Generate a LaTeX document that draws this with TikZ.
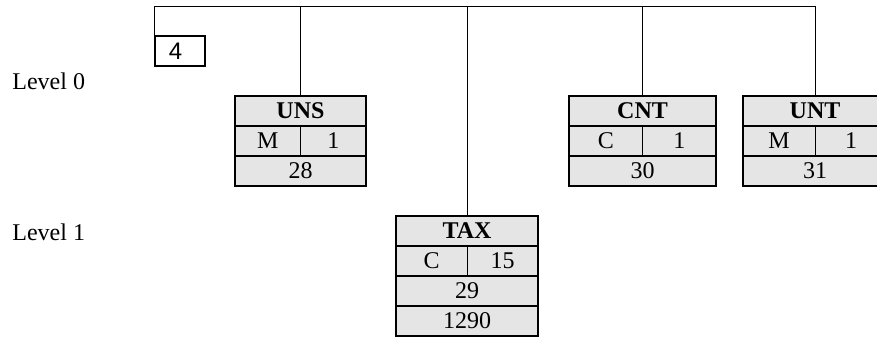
\documentclass[tikz,border=0pt]{standalone}
\usepackage{fontspec}
\setmainfont{Liberation Serif}
\newfontfamily\arialfont{Liberation Sans}
\usepackage{tikz}

\tikzset{
    cell/.style={draw, fill=gray!20, line width=0.75pt, inner sep=0pt,
        minimum height=15pt, font=\fontsize{12}{14}\selectfont},
    txt/.style={inner sep=0pt, font=\fontsize{12}{14}\selectfont},
    link/.style={line width=0.45pt},
    lvl/.style={anchor=west, inner sep=0pt, font=\fontsize{12}{14}\selectfont}
}

\begin{document}
\begin{tikzpicture}[x=0.5pt, y=-0.5pt]
    \useasboundingbox (0,0) rectangle (877,339);
    \clip (0,0) rectangle (877,339);

    % Niveis
    \node[lvl] (lvl0) at (12,81) {Level 0};
    \node[lvl] (lvl1) at (12,232) {Level 1};

    % Segmento inicial
    \node[draw, line width=0.75pt, anchor=north west, minimum height=15pt,
        text width=11pt, inner xsep=7pt, inner ysep=0pt, align=left,
        font=\arialfont\fontsize{12}{14}\selectfont] (seg) at (154,35) {4};
    \coordinate (bar) at (154,6);

    % Grupos do nivel 0
    \foreach \name/\x/\w/\st/\rep/\num in {UNS/300.5/131/M/1/28, CNT/642.5/147/C/1/30, UNT/815/144/M/1/31} {
        \node[cell, minimum width=\w*0.5pt] (\name) at (\x,111) {\textbf{\name}};
        \node[cell, minimum width=\w*0.5pt] (\name-row) at (\x,141) {};
        \draw[link] (\name-row.north) -- (\name-row.south);
        \node[txt] (\name-st) at (\x-\w/4,141) {\st};
        \node[txt] (\name-rep) at (\x+\w/4,141) {\rep};
        \node[cell, minimum width=\w*0.5pt] (\name-num) at (\x,171) {\num};
    }

    % Grupo do nivel 1
    \node[cell, minimum width=71pt] (TAX) at (467,231) {\textbf{TAX}};
    \node[cell, minimum width=71pt] (TAX-row) at (467,261) {};
    \draw[link] (TAX-row.north) -- (TAX-row.south);
    \node[txt] (TAX-st) at (431.5,261) {C};
    \node[txt] (TAX-rep) at (502.5,261) {15};
    \node[cell, minimum width=71pt] (TAX-num) at (467,291) {29};
    \node[cell, minimum width=71pt] (TAX-pos) at (467,321) {1290};

    % Ligacoes
    \draw[link] (seg.north west) -- (seg.north west |- bar) -| (UNT.north);
    \draw[link] (UNS.north) -- (UNS.north |- bar);
    \draw[link] (CNT.north) -- (CNT.north |- bar);
    \draw[link] (TAX.north) -- (TAX.north |- bar);
\end{tikzpicture}
\end{document}
